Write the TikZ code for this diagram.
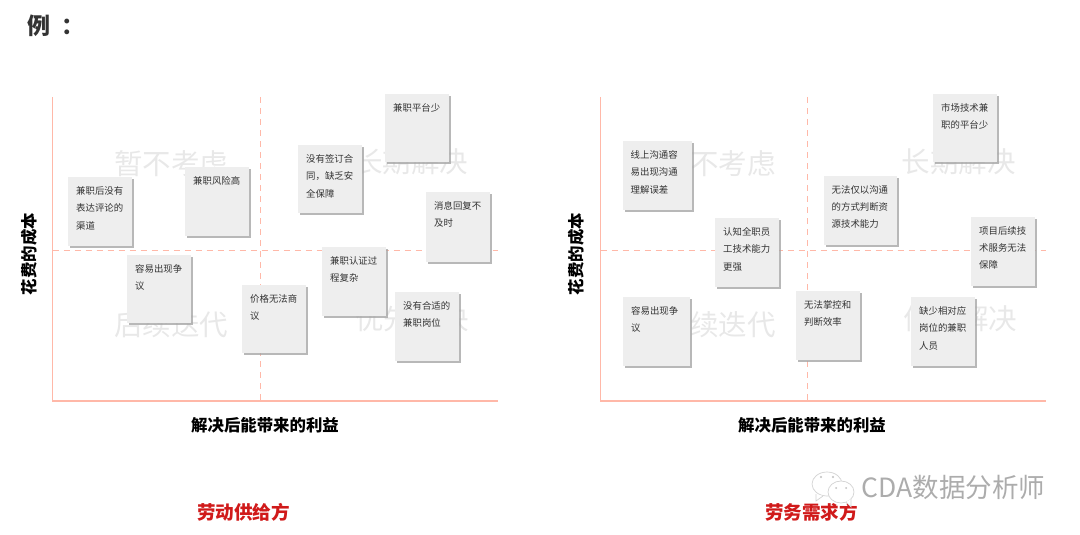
\documentclass[tikz,border=0pt]{standalone}
\usepackage{fontspec}
\setmainfont{Noto Sans CJK SC}
\usetikzlibrary{positioning,shadows}
\definecolor{axispeach}{RGB}{255,184,168}
\definecolor{notegray}{RGB}{238,238,238}
\definecolor{quadgray}{RGB}{232,232,232}
\definecolor{titlered}{RGB}{208,26,26}
\definecolor{darktext}{RGB}{51,51,51}
\newcommand{\notebody}[3]{\parbox[t][\dimexpr #2pt-19pt\relax][t]{\dimexpr #1pt-16pt\relax}{\fontsize{9.4pt}{17.2pt}\selectfont #3\par}}

\begin{document}
\begin{tikzpicture}[
  x=1pt, y=-1pt,
  every node/.style={text=darktext},
  note/.style={rectangle, anchor=north west, fill=notegray, inner xsep=8pt, inner ysep=9.5pt, align=left, drop shadow={shadow xshift=2.2pt, shadow yshift=-2.2pt, fill=black!35, opacity=0.8}},
  quadrant/.style={font=\fontsize{28.5pt}{30pt}\selectfont, text=quadgray},
  axis_line/.style={draw=axispeach, line width=1.8pt},
  mid_line/.style={draw=axispeach, line width=1.5pt, dash pattern=on 6pt off 5pt},
  axis_label/.style={font=\fontsize{16.4pt}{18pt}\selectfont\bfseries, text=black},
  side_label/.style={font=\fontsize{18.6pt}{20pt}\selectfont\bfseries, text=titlered}
]
\useasboundingbox (0,0) rectangle (1080,535);

% Title
\node[font=\fontsize{23pt}{25pt}\selectfont\bfseries, anchor=west, inner sep=0pt] (title) at (27.5,25.5) {例\hspace{10.5pt}：};

% Left chart: axes
\coordinate (LO) at (52.5,400.7);
\coordinate (LT) at (52.5,97);
\coordinate (LR) at (498,400.7);
\coordinate (LMT) at (260.4,97);
\coordinate (LMB) at (260.4,400.7);
\coordinate (LML) at (52.5,250.4);
\coordinate (LMR) at (498,250.4);

% Left chart: quadrant names
\node[quadrant] (L1) at (171,164) {暂不考虑};
\node[quadrant] (L2) at (411,162) {长期解决};
\node[quadrant] (L3) at (171,325) {后续迭代};
\node[quadrant] (L4) at (412,319) {优先解决};

\draw[mid_line] (LMT) -- (LMB);
\draw[mid_line] (LML) -- (LMR);
\draw[axis_line] (LT) -- (LO) -- (LR);

% Left chart: notes
\node[note] (A1) at (385,93.5) {\notebody{64}{68.5}{兼职平台少}};
\node[note] (A2) at (298,145) {\notebody{64}{68}{没有签订合\\同，缺乏安\\全保障}};
\node[note] (A3) at (185,167) {\notebody{64}{69}{兼职风险高}};
\node[note] (A4) at (68,177) {\notebody{64}{69}{兼职后没有\\表达评论的\\渠道}};
\node[note] (A5) at (426,192) {\notebody{64}{70}{消息回复不\\及时}};
\node[note] (A6) at (127,254.5) {\notebody{64}{68}{容易出现争\\议}};
\node[note] (A7) at (322,247) {\notebody{64}{69}{兼职认证过\\程复杂}};
\node[note] (A8) at (242,284.5) {\notebody{64}{68}{价格无法商\\议}};
\node[note] (A9) at (395,292) {\notebody{64}{69}{没有合适的\\兼职岗位}};

% Left chart: labels
\node[axis_label, rotate=90] (LY) at (29,254) {花费的成本};
\node[axis_label] (LX) at (265,425) {解决后能带来的利益};
\node[side_label] (LS) at (243.5,512.5) {劳动供给方};

% Right chart: axes
\coordinate (RO) at (600.5,400.7);
\coordinate (RT) at (600.5,97);
\coordinate (RR) at (1046,400.7);
\coordinate (RMT) at (807.5,97);
\coordinate (RMB) at (807.5,400.7);
\coordinate (RML) at (600.5,250.4);
\coordinate (RMR) at (1046,250.4);

% Right chart: quadrant names
\node[quadrant] (R1) at (718.5,164) {暂不考虑};
\node[quadrant] (R2) at (958.5,162) {长期解决};
\node[quadrant] (R3) at (718.5,325) {后续迭代};
\node[quadrant] (R4) at (960,319) {优先解决};

\draw[mid_line] (RMT) -- (RMB);
\draw[mid_line] (RML) -- (RMR);
\draw[axis_line] (RT) -- (RO) -- (RR);

% Right chart: notes
\node[note] (B1) at (933,93.5) {\notebody{64}{68.5}{市场技术兼\\职的平台少}};
\node[note] (B2) at (622.5,141) {\notebody{69}{69}{线上沟通容\\易出现沟通\\理解误差}};
\node[note] (B3) at (823.5,175.5) {\notebody{73}{69}{无法仅以沟通\\的方式判断资\\源技术能力}};
\node[note] (B4) at (715,218) {\notebody{64}{69}{认知全职员\\工技术能力\\更强}};
\node[note] (B5) at (971,217) {\notebody{64}{69}{项目后续技\\术服务无法\\保障}};
\node[note] (B6) at (623,297) {\notebody{67}{69}{容易出现争\\议}};
\node[note] (B7) at (796,290.5) {\notebody{64}{69}{无法掌控和\\判断效率}};
\node[note] (B8) at (911,297) {\notebody{64}{69}{缺少相对应\\岗位的兼职\\人员}};

% Right chart: labels
\node[axis_label, rotate=90] (RY) at (576.5,254) {花费的成本};
\node[axis_label] (RX) at (812,425) {解决后能带来的利益};
\node[side_label] (RS) at (811.5,512.5) {劳务需求方};

% Watermark
\draw[gray!35, fill=white, line width=0.7pt] (827,484) ellipse (15pt and 12pt);
\draw[gray!35, fill=white, line width=0.7pt] (816,494) -- (816,501) -- (823,496);
\draw[gray!35, fill=white, line width=0.7pt] (841,492) ellipse (13pt and 11pt);
\draw[gray!35, fill=white, line width=0.7pt] (846,502) -- (851,507) -- (851,499);
\fill[gray!50] (821,477) circle (1.1pt) (833,477) circle (1.1pt) (836,488) circle (1pt) (846,488) circle (1pt);
\node[font=\fontsize{26.5pt}{28pt}\selectfont, text=gray!65] (WM) at (953.5,487) {CDA数据分析师};

\end{tikzpicture}
\end{document}
